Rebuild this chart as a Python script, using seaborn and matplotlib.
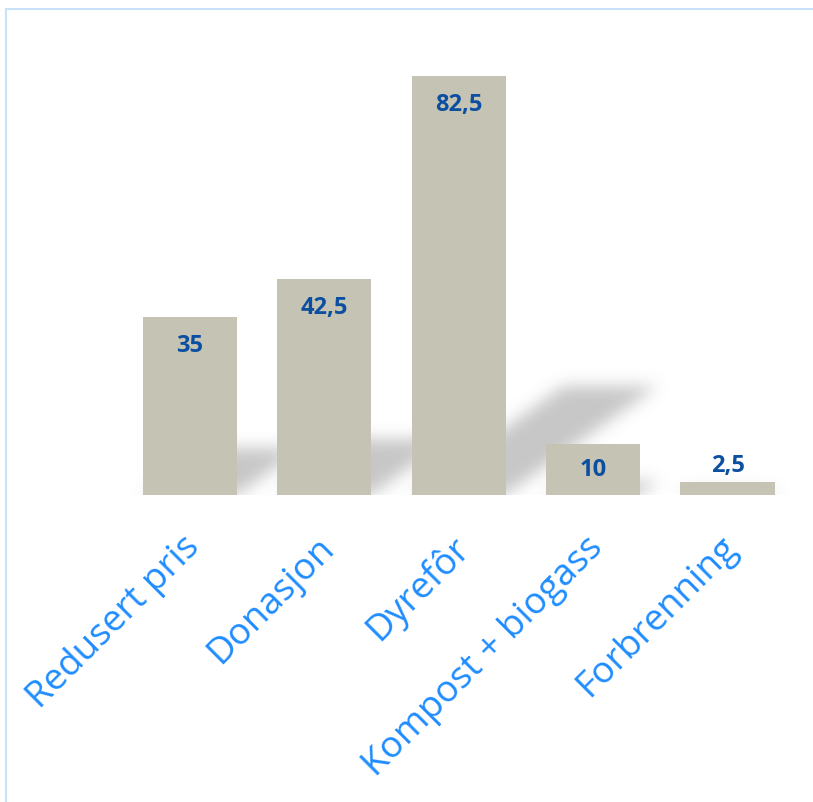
import numpy as np
import pandas as pd
import matplotlib
matplotlib.use("Agg")
import matplotlib.pyplot as plt
import matplotlib.transforms as mtransforms
from matplotlib.patches import Rectangle
import seaborn as sns

# data
categories = ["Redusert pris", "Donasjon", "Dyrefôr", "Kompost + biogass", "Forbrenning"]
values = [35, 42.5, 82.5, 10, 2.5]
value_labels = ["35", "42,5", "82,5", "10", "2,5"]

df = pd.DataFrame({"kategori": categories, "verdi": values})

bar_color = "#C5C3B3"
label_color = "#0B4FA0"
tick_color = "#1E8CFF"

sns.set_style("white")
plt.rcParams["font.family"] = ["Open Sans", "DejaVu Sans"]

fig = plt.figure(figsize=(8.13, 8.02), dpi=100)
ax = fig.add_axes([0.151, 0.3828, 0.8265, 0.5698])

sns.barplot(data=df, x="kategori", y="verdi", color=bar_color, saturation=1,
            width=0.7, linewidth=0, ax=ax, zorder=3)

# soft skewed shadow behind the bars
ymax = 90
nx, ny = 672, 457
gx = np.linspace(-0.5, 4.5, nx)
gy = np.linspace(0, ymax, ny)
X, Y = np.meshgrid(gx, gy)
mask = np.zeros_like(X)
for i, v in enumerate(values):
    inside = (Y <= 0.26 * v) & (np.abs(X - 0.0528 * Y - i) <= 0.35)
    mask[inside] = 1.0

def blur(a, sigma):
    r = int(3 * sigma)
    k = np.exp(-0.5 * (np.arange(-r, r + 1) / sigma) ** 2)
    k /= k.sum()
    a = np.apply_along_axis(lambda m: np.convolve(m, k, mode="same"), 0, a)
    a = np.apply_along_axis(lambda m: np.convolve(m, k, mode="same"), 1, a)
    return a

mask = blur(mask, 8)
rgba = np.zeros((ny, nx, 4))
rgba[..., :3] = 0.45
rgba[..., 3] = mask * 0.4
ax.imshow(rgba, extent=(-0.5, 4.5, 0, ymax), origin="lower", aspect="auto",
          zorder=1, interpolation="bilinear")

ax.set_xlim(-0.5, 4.5)
ax.set_ylim(0, ymax)

# value labels
for i, (v, txt) in enumerate(zip(values, value_labels)):
    if v >= 30:
        off = -21
    elif v >= 8:
        off = -v * 5.08 * 0.72 / 2
    else:
        off = 12
    ax.annotate(txt, (i, v), xytext=(0, off), textcoords="offset points",
                ha="center", va="center", fontsize=17, fontweight="bold",
                color=label_color, family=["Open Sans", "DejaVu Sans"], zorder=4)

ax.set_xlabel("")
ax.set_ylabel("")
ax.set_yticks([])
ax.tick_params(axis="x", length=0, pad=25)
shift = mtransforms.ScaledTranslation(-8 / 100, 0, fig.dpi_scale_trans)
for lab in ax.get_xticklabels():
    lab.set_rotation(45)
    lab.set_rotation_mode("anchor")
    lab.set_ha("right")
    lab.set_va("top")
    lab.set_fontsize(26.5)
    lab.set_color(tick_color)
    lab.set_transform(lab.get_transform() + shift)
sns.despine(ax=ax, left=True, bottom=True)

# light blue frame round the chart area
fig.add_artist(Rectangle((6 / 813, -0.1), 1.2, (802 - 9) / 802 + 0.1,
                         transform=fig.transFigure, fill=False,
                         ec="#C9E1FA", lw=1.5))

fig.savefig("out.png", dpi=100, facecolor="white")
